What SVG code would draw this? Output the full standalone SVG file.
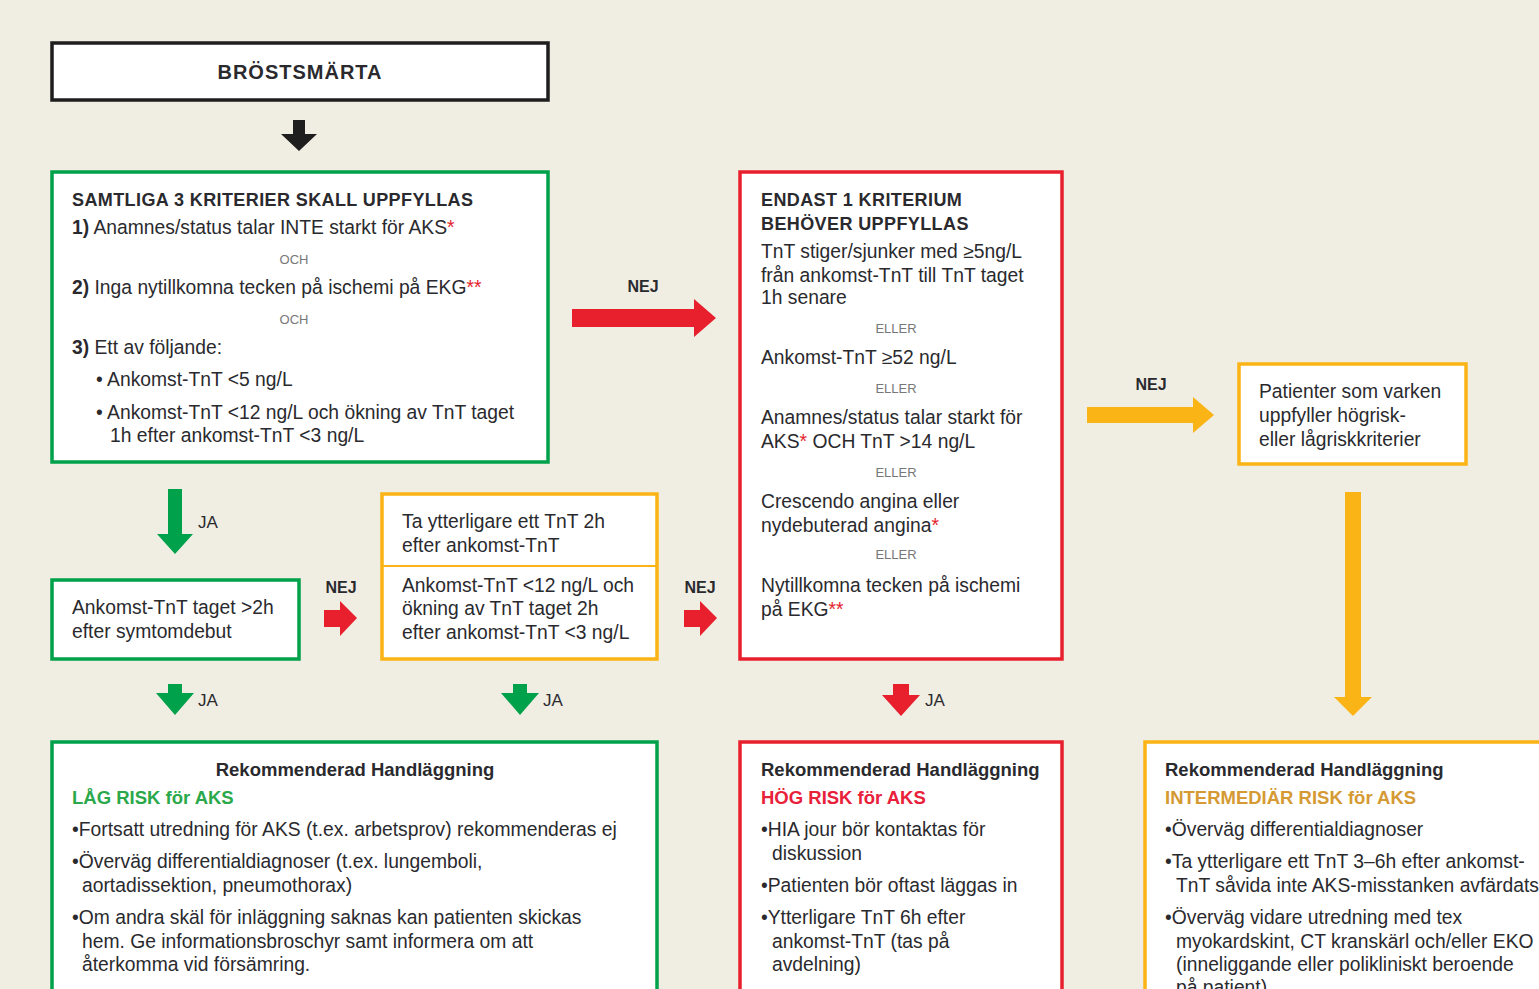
<svg xmlns="http://www.w3.org/2000/svg" width="1539" height="989" viewBox="0 0 1539 989">
<style>
text{font-family:"Liberation Sans",Arial,sans-serif;fill:#2a2a2e;font-size:19.3px}
.h{font-weight:bold;font-size:18px;letter-spacing:0.4px}
.b{font-weight:bold;font-size:18.5px}
.sm{font-size:13px;fill:#777;text-anchor:middle}
.lbl{font-size:17px}
.nej{font-weight:bold;font-size:16px;text-anchor:middle}
.ast{fill:#e31e2b}
.g{fill:#fff;stroke:#00a14b;stroke-width:3.5}
.r{fill:#fff;stroke:#e8202e;stroke-width:3.5}
.y{fill:#fff;stroke:#fbb415;stroke-width:3.5}
.k{fill:#fff;stroke:#1e1e1e;stroke-width:3.5}
</style>
<rect width="1539" height="989" fill="#f0ede3"/>

<g id="connectors">
<polygon points="293,120 305,120 305,134 317,134 299,151 281,134 293,134" fill="#1e1e1e"/>
<polygon points="572,309 694,309 694,299 716,318 694,337 694,327 572,327" fill="#e8202e"/>
<text class="nej" x="643" y="292">NEJ</text>
<polygon points="1087,407 1193,407 1193,397 1214,415 1193,433 1193,423 1087,423" fill="#fbb415"/>
<text class="nej" x="1151" y="390">NEJ</text>
<polygon points="1345,492 1361,492 1361,697 1372,697 1353,716 1334,697 1345,697" fill="#fbb415"/>
<polygon points="168,489 182,489 182,534 193,534 175,554 157,534 168,534" fill="#00a14b"/>
<text class="lbl" x="198" y="528">JA</text>
<polygon points="324,610 340,610 340,601 357,618 340,636 340,627 324,627" fill="#e8202e"/>
<text class="nej" x="341" y="593">NEJ</text>
<polygon points="684,610 700,610 700,601 717,618 700,636 700,627 684,627" fill="#e8202e"/>
<text class="nej" x="700" y="593">NEJ</text>
<polygon points="168,684 182,684 182,693 194,693 175,715 156,693 168,693" fill="#00a14b"/>
<text class="lbl" x="198" y="706">JA</text>
<polygon points="513,684 527,684 527,693 539,693 520,715 501,693 513,693" fill="#00a14b"/>
<text class="lbl" x="543" y="706">JA</text>
<polygon points="893,684 909,684 909,695 920,695 901,716 882,695 893,695" fill="#e8202e"/>
<text class="lbl" x="925" y="706">JA</text>
</g>

<g id="brostsmarta">
<rect class="k" x="52" y="43" width="496" height="57"/>
<text class="b" x="300" y="79" text-anchor="middle" style="font-size:20px;letter-spacing:1px">BRÖSTSMÄRTA</text>
</g>

<g id="samtliga">
<rect class="g" x="52" y="172" width="496" height="290"/>
<text class="h" x="72" y="206">SAMTLIGA 3 KRITERIER SKALL UPPFYLLAS</text>
<text x="72" y="234"><tspan font-weight="bold">1)</tspan> Anamnes/status talar INTE starkt för AKS<tspan class="ast">*</tspan></text>
<text class="sm" x="294" y="264">OCH</text>
<text x="72" y="294"><tspan font-weight="bold">2)</tspan> Inga nytillkomna tecken på ischemi på EKG<tspan class="ast">**</tspan></text>
<text class="sm" x="294" y="324">OCH</text>
<text x="72" y="354"><tspan font-weight="bold">3)</tspan> Ett av följande:</text>
<text x="96" y="386">• Ankomst-TnT &lt;5 ng/L</text>
<text x="96" y="419">• Ankomst-TnT &lt;12 ng/L och ökning av TnT taget</text>
<text x="110" y="442">1h efter ankomst-TnT &lt;3 ng/L</text>
</g>

<g id="endast">
<rect class="r" x="740" y="172" width="322" height="487"/>
<text class="h" x="761" y="206">ENDAST 1 KRITERIUM</text>
<text class="h" x="761" y="230">BEHÖVER UPPFYLLAS</text>
<text x="761" y="258">TnT stiger/sjunker med ≥5ng/L</text>
<text x="761" y="282">från ankomst-TnT till TnT taget</text>
<text x="761" y="304">1h senare</text>
<text class="sm" x="896" y="333">ELLER</text>
<text x="761" y="364">Ankomst-TnT ≥52 ng/L</text>
<text class="sm" x="896" y="393">ELLER</text>
<text x="761" y="424">Anamnes/status talar starkt för</text>
<text x="761" y="448">AKS<tspan class="ast">*</tspan> OCH TnT &gt;14 ng/L</text>
<text class="sm" x="896" y="477">ELLER</text>
<text x="761" y="508">Crescendo angina eller</text>
<text x="761" y="532">nydebuterad angina<tspan class="ast">*</tspan></text>
<text class="sm" x="896" y="559">ELLER</text>
<text x="761" y="592">Nytillkomna tecken på ischemi</text>
<text x="761" y="616">på EKG<tspan class="ast">**</tspan></text>
</g>

<g id="varken">
<rect class="y" x="1239" y="364" width="227" height="100"/>
<text x="1259" y="398">Patienter som varken</text>
<text x="1259" y="422">uppfyller högrisk-</text>
<text x="1259" y="446">eller lågriskkriterier</text>
</g>

<g id="symtomdebut">
<rect class="g" x="52" y="580" width="247" height="79"/>
<text x="72" y="614">Ankomst-TnT taget &gt;2h</text>
<text x="72" y="638">efter symtomdebut</text>
</g>

<g id="tnt2h">
<rect class="y" x="382" y="494" width="275" height="165"/>
<line x1="382" y1="566" x2="657" y2="566" stroke="#fbb415" stroke-width="2"/>
<text x="402" y="528">Ta ytterligare ett TnT 2h</text>
<text x="402" y="552">efter ankomst-TnT</text>
<text x="402" y="592">Ankomst-TnT &lt;12 ng/L och</text>
<text x="402" y="615">ökning av TnT taget 2h</text>
<text x="402" y="639">efter ankomst-TnT &lt;3 ng/L</text>
</g>

<g id="lag-risk">
<rect class="g" x="52" y="742" width="605" height="260"/>
<text class="b" x="355" y="776" text-anchor="middle">Rekommenderad Handläggning</text>
<text class="b" x="72" y="804" style="fill:#2aa84a">LÅG RISK för AKS</text>
<text x="72" y="836">•Fortsatt utredning för AKS (t.ex. arbetsprov) rekommenderas ej</text>
<text x="72" y="868">•Överväg differentialdiagnoser (t.ex. lungemboli,</text>
<text x="82" y="892">aortadissektion, pneumothorax)</text>
<text x="72" y="924">•Om andra skäl för inläggning saknas kan patienten skickas</text>
<text x="82" y="948">hem. Ge informationsbroschyr samt informera om att</text>
<text x="82" y="971">återkomma vid försämring.</text>
</g>

<g id="hog-risk">
<rect class="r" x="740" y="742" width="322" height="260"/>
<text class="b" x="761" y="776">Rekommenderad Handläggning</text>
<text class="b" x="761" y="804" style="fill:#e8203a">HÖG RISK för AKS</text>
<text x="761" y="836">•HIA jour bör kontaktas för</text>
<text x="772" y="860">diskussion</text>
<text x="761" y="892">•Patienten bör oftast läggas in</text>
<text x="761" y="924">•Ytterligare TnT 6h efter</text>
<text x="772" y="948">ankomst-TnT (tas på</text>
<text x="772" y="971">avdelning)</text>
</g>

<g id="intermediar-risk">
<rect class="y" x="1145" y="742" width="420" height="260"/>
<text class="b" x="1165" y="776">Rekommenderad Handläggning</text>
<text class="b" x="1165" y="804" style="fill:#d59a33">INTERMEDIÄR RISK för AKS</text>
<text x="1165" y="836">•Överväg differentialdiagnoser</text>
<text x="1165" y="868">•Ta ytterligare ett TnT 3–6h efter ankomst-</text>
<text x="1176" y="892">TnT såvida inte AKS-misstanken avfärdats</text>
<text x="1165" y="924">•Överväg vidare utredning med tex</text>
<text x="1176" y="948">myokardskint, CT kranskärl och/eller EKO</text>
<text x="1176" y="971">(inneliggande eller polikliniskt beroende</text>
<text x="1176" y="994">på patient)</text>
</g>
</svg>
